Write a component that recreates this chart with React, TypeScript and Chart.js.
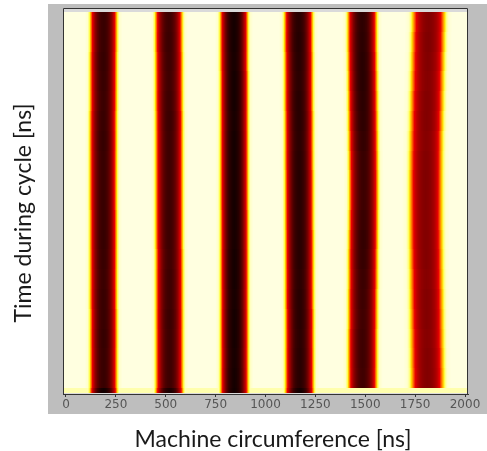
import React, { useEffect, useRef } from "react";
import { Chart, registerables } from "chart.js";

Chart.register(...registerables);

// ---- axis ----
const xTickValues = [0, 250, 500, 750, 1000, 1250, 1500, 1750, 2000];
const xMin = -15;
const xMax = 2015;
const columnWidthNs = 5;

// ---- time rows: 19 main rows (top -> bottom) + 1 bottom row ----
const mainRowHeight = 4;
const bottomRowHeight = 1;
const yMin = -0.2;
const yMax = 77.8;

// band centres along the machine circumference [ns], per main row (top -> bottom)
const band1Centers = [188, 188, 187, 187, 187, 186, 186, 186, 186, 186, 187, 187, 187, 187, 187, 188, 188, 188, 188];
const band2Centers = [514, 514, 515, 515, 515, 516, 516, 516, 516, 516, 516, 516, 517, 517, 517, 517, 517, 517, 517];
const band3Centers = [840, 840, 840, 841, 841, 841, 841, 841, 841, 841, 842, 842, 842, 842, 842, 842, 842, 842, 842];
const band4Centers = [1168, 1168, 1169, 1169, 1169, 1170, 1170, 1170, 1171, 1171, 1171, 1172, 1172, 1172, 1172, 1173, 1173, 1173, 1173];
const band5Centers = [1486, 1486, 1487, 1488, 1489, 1490, 1491, 1492, 1493, 1493, 1492, 1491, 1490, 1490, 1489, 1489, 1488, 1488, 1488];
const band6Centers = [1818, 1816, 1814, 1812, 1810, 1808, 1806, 1805, 1804, 1804, 1804, 1805, 1806, 1807, 1808, 1809, 1810, 1811, 1812];

// band peak intensity (0..1), per main row (top -> bottom)
const band1Peaks = [0.86, 0.86, 0.87, 0.86, 0.85, 0.86, 0.87, 0.86, 0.85, 0.86, 0.86, 0.87, 0.86, 0.85, 0.86, 0.86, 0.87, 0.86, 0.86];
const band2Peaks = [0.84, 0.85, 0.84, 0.83, 0.84, 0.85, 0.84, 0.84, 0.83, 0.84, 0.85, 0.84, 0.83, 0.84, 0.84, 0.85, 0.84, 0.84, 0.84];
const band3Peaks = [0.99, 0.99, 0.98, 0.99, 0.99, 0.98, 0.99, 0.99, 0.98, 0.99, 0.99, 0.98, 0.99, 0.99, 0.98, 0.99, 0.99, 0.98, 0.99];
const band4Peaks = [0.92, 0.93, 0.92, 0.91, 0.92, 0.92, 0.91, 0.92, 0.93, 0.92, 0.91, 0.92, 0.92, 0.91, 0.92, 0.92, 0.91, 0.92, 0.92];
const band5Peaks = [0.9, 0.91, 0.92, 0.92, 0.91, 0.9, 0.88, 0.86, 0.85, 0.84, 0.86, 0.88, 0.87, 0.85, 0.84, 0.83, 0.84, 0.84, 0.83];
const band6Peaks = [0.62, 0.63, 0.62, 0.61, 0.62, 0.62, 0.61, 0.62, 0.63, 0.62, 0.61, 0.62, 0.62, 0.61, 0.62, 0.62, 0.61, 0.62, 0.62];

// band half widths [ns]
const bandHalfWidths = [67, 68, 68, 70, 72, 85];

// bottom row
const bottomRowCenters = [188, 517, 842, 1173, 1488, 1812];
const bottomRowPeaks = [1.0, 0.97, 1.0, 1.0, 0, 0];
const bottomRowBackground = 0.05;
const mainBackground = 0;

// bunch cross-section profile (offset / half width -> relative intensity)
const profileU = [0, 0.15, 0.3, 0.45, 0.6, 0.75, 0.9, 1.05, 1.2, 1.4];
const profileV = [1, 0.98, 0.93, 0.84, 0.7, 0.5, 0.3, 0.12, 0.03, 0];

// colour map (value -> colour)
const cmapStops = [0, 0.04, 0.1, 0.16, 0.24, 0.34, 0.48, 0.65, 0.82, 1];
const cmapColors = ["#ffffe0", "#ffffc0", "#ffff50", "#ffd000", "#ff7000", "#e80000", "#b00000", "#780000", "#420000", "#120000"];

const xTitle = "Machine circumference [ns]";
const yTitle = "Time during cycle [ns]";

function hexToRgb(h: string) {
  const n = parseInt(h.slice(1), 16);
  return [(n >> 16) & 255, (n >> 8) & 255, n & 255];
}
const cmapRgb = cmapColors.map(hexToRgb);

function colorFor(v: number) {
  const t = Math.max(0, Math.min(1, v));
  for (let i = 1; i < cmapStops.length; i++) {
    if (t <= cmapStops[i]) {
      const f = (t - cmapStops[i - 1]) / (cmapStops[i] - cmapStops[i - 1]);
      const a = cmapRgb[i - 1], b = cmapRgb[i];
      return `rgb(${Math.round(a[0] + (b[0] - a[0]) * f)},${Math.round(a[1] + (b[1] - a[1]) * f)},${Math.round(a[2] + (b[2] - a[2]) * f)})`;
    }
  }
  const c = cmapRgb[cmapRgb.length - 1];
  return `rgb(${c[0]},${c[1]},${c[2]})`;
}

function profileAt(u: number) {
  const a = Math.abs(u);
  if (a >= profileU[profileU.length - 1]) return 0;
  for (let i = 1; i < profileU.length; i++) {
    if (a <= profileU[i]) {
      const f = (a - profileU[i - 1]) / (profileU[i] - profileU[i - 1]);
      return profileV[i - 1] + (profileV[i] - profileV[i - 1]) * f;
    }
  }
  return 0;
}

type Row = { y0: number; y1: number; centers: number[]; peaks: number[]; bg: number };

function buildRows(): Row[] {
  const rows: Row[] = [];
  const allCenters = [band1Centers, band2Centers, band3Centers, band4Centers, band5Centers, band6Centers];
  const allPeaks = [band1Peaks, band2Peaks, band3Peaks, band4Peaks, band5Peaks, band6Peaks];
  const n = band1Centers.length;
  const top = bottomRowHeight + n * mainRowHeight;
  for (let i = 0; i < n; i++) {
    rows.push({
      y1: top - i * mainRowHeight,
      y0: top - (i + 1) * mainRowHeight,
      centers: allCenters.map((c) => c[i]),
      peaks: allPeaks.map((p) => p[i]),
      bg: mainBackground,
    });
  }
  rows.push({ y0: 0, y1: bottomRowHeight, centers: bottomRowCenters, peaks: bottomRowPeaks, bg: bottomRowBackground });
  return rows;
}

function fitFont(ctx: CanvasRenderingContext2D, text: string, family: string, target: number) {
  ctx.font = `20px ${family}`;
  const w = ctx.measureText(text).width;
  const size = (20 * target) / w;
  return `${size.toFixed(2)}px ${family}`;
}

const heatPlugin = {
  id: "heat",
  beforeDraw(chart: any) {
    const ctx = chart.ctx;
    const a = chart.chartArea;
    ctx.save();
    ctx.fillStyle = "#bebebe";
    ctx.fillRect(48, 4, 487 - 48, 414 - 4);
    ctx.fillStyle = "#dadada";
    ctx.fillRect(a.left, a.top, a.right - a.left, a.bottom - a.top);
    ctx.restore();
  },
  beforeDatasetsDraw(chart: any) {
    const ctx = chart.ctx;
    const a = chart.chartArea;
    const xs = chart.scales.x;
    const ys = chart.scales.y;
    const rows = buildRows();
    ctx.save();
    ctx.beginPath();
    ctx.rect(a.left + 1, a.top + 1, a.right - a.left - 2, a.bottom - a.top - 1);
    ctx.clip();
    for (const r of rows) {
      const py0 = Math.round(ys.getPixelForValue(r.y1));
      const py1 = Math.round(ys.getPixelForValue(r.y0));
      for (let x = xMin - columnWidthNs; x < xMax; x += columnWidthNs) {
        const xc = x + columnWidthNs / 2;
        let v = r.bg;
        for (let b = 0; b < r.centers.length; b++) {
          const val = r.peaks[b] * profileAt((xc - r.centers[b]) / bandHalfWidths[b]);
          if (val > v) v = val;
        }
        const px0 = Math.round(xs.getPixelForValue(x));
        const px1 = Math.round(xs.getPixelForValue(x + columnWidthNs));
        ctx.fillStyle = colorFor(v);
        ctx.fillRect(px0, py0, px1 - px0, py1 - py0);
      }
    }
    ctx.restore();
  },
  afterDraw(chart: any) {
    const ctx = chart.ctx;
    const a = chart.chartArea;
    ctx.save();
    ctx.strokeStyle = "#333333";
    ctx.lineWidth = 1;
    ctx.beginPath();
    ctx.moveTo(a.left + 0.5, a.bottom);
    ctx.lineTo(a.left + 0.5, a.top + 0.5);
    ctx.lineTo(a.right - 0.5, a.top + 0.5);
    ctx.lineTo(a.right - 0.5, a.bottom);
    ctx.stroke();
    ctx.fillStyle = "#1a1a1a";
    const font = fitFont(ctx, xTitle, "Lato", 277);
    ctx.font = font;
    ctx.textAlign = "center";
    ctx.textBaseline = "middle";
    ctx.fillText(xTitle, 273, 440);
    ctx.translate(24, 213);
    ctx.rotate(-Math.PI / 2);
    ctx.fillText(yTitle, 0, 0);
    ctx.restore();
  },
};

export default function App() {
  const ref = useRef<HTMLCanvasElement>(null);
  useEffect(() => {
    if (!ref.current) return;
    const chart = new Chart(ref.current, {
      type: "scatter",
      data: { datasets: [{ data: [] }] },
      options: {
        animation: false,
        responsive: false,
        events: [],
        layout: { padding: { left: 63, right: 19, top: 8, bottom: 0 } },
        plugins: { legend: { display: false }, tooltip: { enabled: false } },
        scales: {
          x: {
            type: "linear",
            min: xMin,
            max: xMax,
            afterBuildTicks: (s: any) => {
              s.ticks = xTickValues.map((v) => ({ value: v }));
            },
            afterFit: (s: any) => {
              s.height = 57;
            },
            grid: { display: true, drawOnChartArea: false, drawTicks: true, tickLength: 3, color: "#333333" },
            border: { display: true, color: "#333333" },
            ticks: {
              autoSkip: false,
              maxRotation: 0,
              padding: 1,
              color: "#555555",
              font: { family: "'DejaVu Sans'", size: 12 },
              callback: (v: any) => String(v),
            },
          },
          y: { type: "linear", min: yMin, max: yMax, display: false },
        },
      },
      plugins: [heatPlugin],
    });
    return () => chart.destroy();
  }, []);
  return (
    <div style={{ position: "absolute", left: 0, top: 0, width: 487, height: 451 }}>
      <canvas ref={ref} width={487} height={451} />
    </div>
  );
}
